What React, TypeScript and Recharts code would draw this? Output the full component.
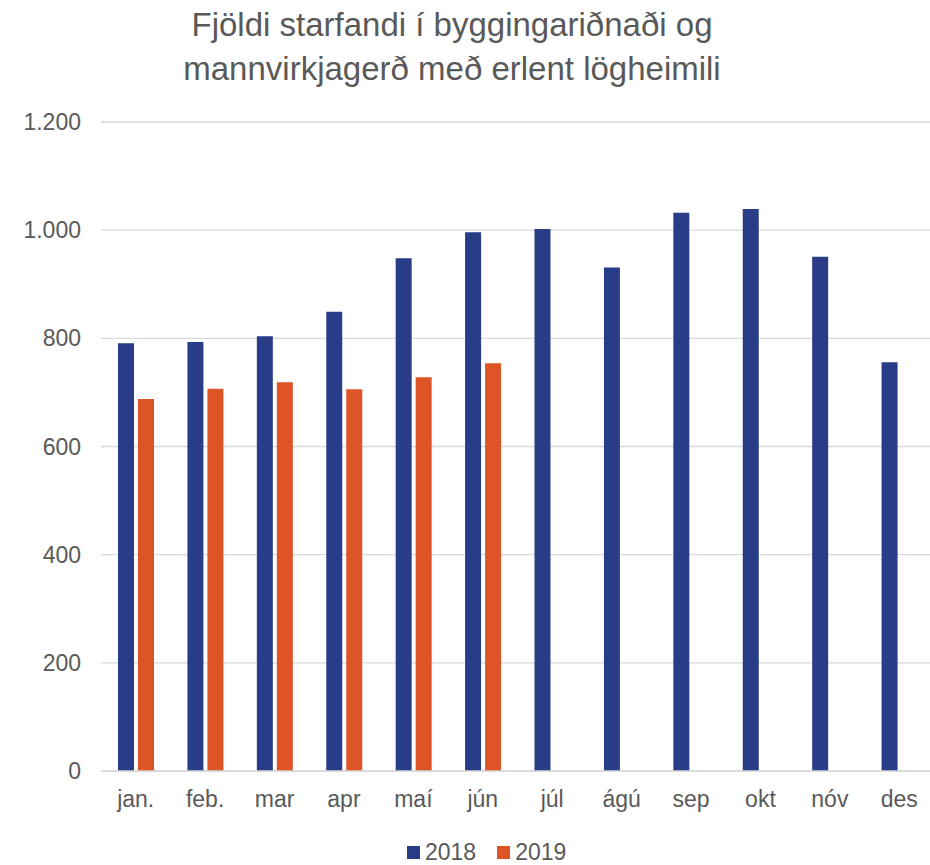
import React from 'react';
import { BarChart, Bar, XAxis, YAxis, CartesianGrid } from 'recharts';

const months = ['jan.', 'feb.', 'mar', 'apr', 'maí', 'jún', 'júl', 'ágú', 'sep', 'okt', 'nóv', 'des'];
const values2018 = [791, 793, 804, 849, 948, 996, 1002, 931, 1032, 1039, 951, 756];
const values2019: (number | null)[] = [688, 707, 719, 706, 728, 754, null, null, null, null, null, null];
const yTicks = [0, 200, 400, 600, 800, 1000, 1200];
const titleLines = ['Fjöldi starfandi í byggingariðnaði og', 'mannvirkjagerð með erlent lögheimili'];

const series = [
  { key: 'y2018', name: '2018', color: '#293c87' },
  { key: 'y2019', name: '2019', color: '#dd5426' },
];

const FONT = '"Liberation Sans", Arial, sans-serif';
const TEXT = '#595959';

const data = months.map((m, i) => ({ month: m, y2018: values2018[i], y2019: values2019[i] }));

const fmt = (v: number) => v.toLocaleString('de-DE');

export default function App() {
  return (
    <div style={{ position: 'absolute', left: 0, top: 0, width: 930, height: 865, overflow: 'hidden', background: '#fff', fontFamily: FONT }}>
      <div style={{ position: 'absolute', left: 0, top: 3, width: 904, textAlign: 'center', fontSize: 33, lineHeight: '44px', color: TEXT }}>
        {titleLines.map(l => <div key={l}>{l}</div>)}
      </div>

      <BarChart
        width={940}
        height={865}
        data={data}
        margin={{ top: 122, right: 6, bottom: 54, left: 0 }}
        barSize={16}
        barGap={4}
      >
        <CartesianGrid vertical={false} stroke="#d9d9d9" strokeWidth={1.3} />
        <XAxis
          dataKey="month"
          height={40}
          axisLine={{ stroke: '#d9d9d9', strokeWidth: 1.3 }}
          tickLine={false}
          tickSize={0}
          tickMargin={20}
          tick={{ fontSize: 23, fill: TEXT, fontFamily: FONT }}
        />
        <YAxis
          width={101}
          domain={[0, 1200]}
          ticks={yTicks}
          axisLine={false}
          tickLine={false}
          tickSize={0}
          tickMargin={20}
          tickFormatter={fmt}
          tick={{ fontSize: 23, fill: TEXT, fontFamily: FONT }}
        />
        {series.map(s => (
          <Bar key={s.key} dataKey={s.key} name={s.name} fill={s.color} isAnimationActive={false} />
        ))}
      </BarChart>

      <div style={{ position: 'absolute', left: 407, top: 840, display: 'flex', alignItems: 'center', height: 24 }}>
        {series.map((s, i) => (
          <div key={s.key} style={{ display: 'flex', alignItems: 'center', marginLeft: i ? 21 : 0 }}>
            <span style={{ display: 'inline-block', width: 13, height: 13, background: s.color, marginRight: 5 }} />
            <span style={{ fontSize: 23, lineHeight: '24px', color: TEXT }}>{s.name}</span>
          </div>
        ))}
      </div>
    </div>
  );
}
